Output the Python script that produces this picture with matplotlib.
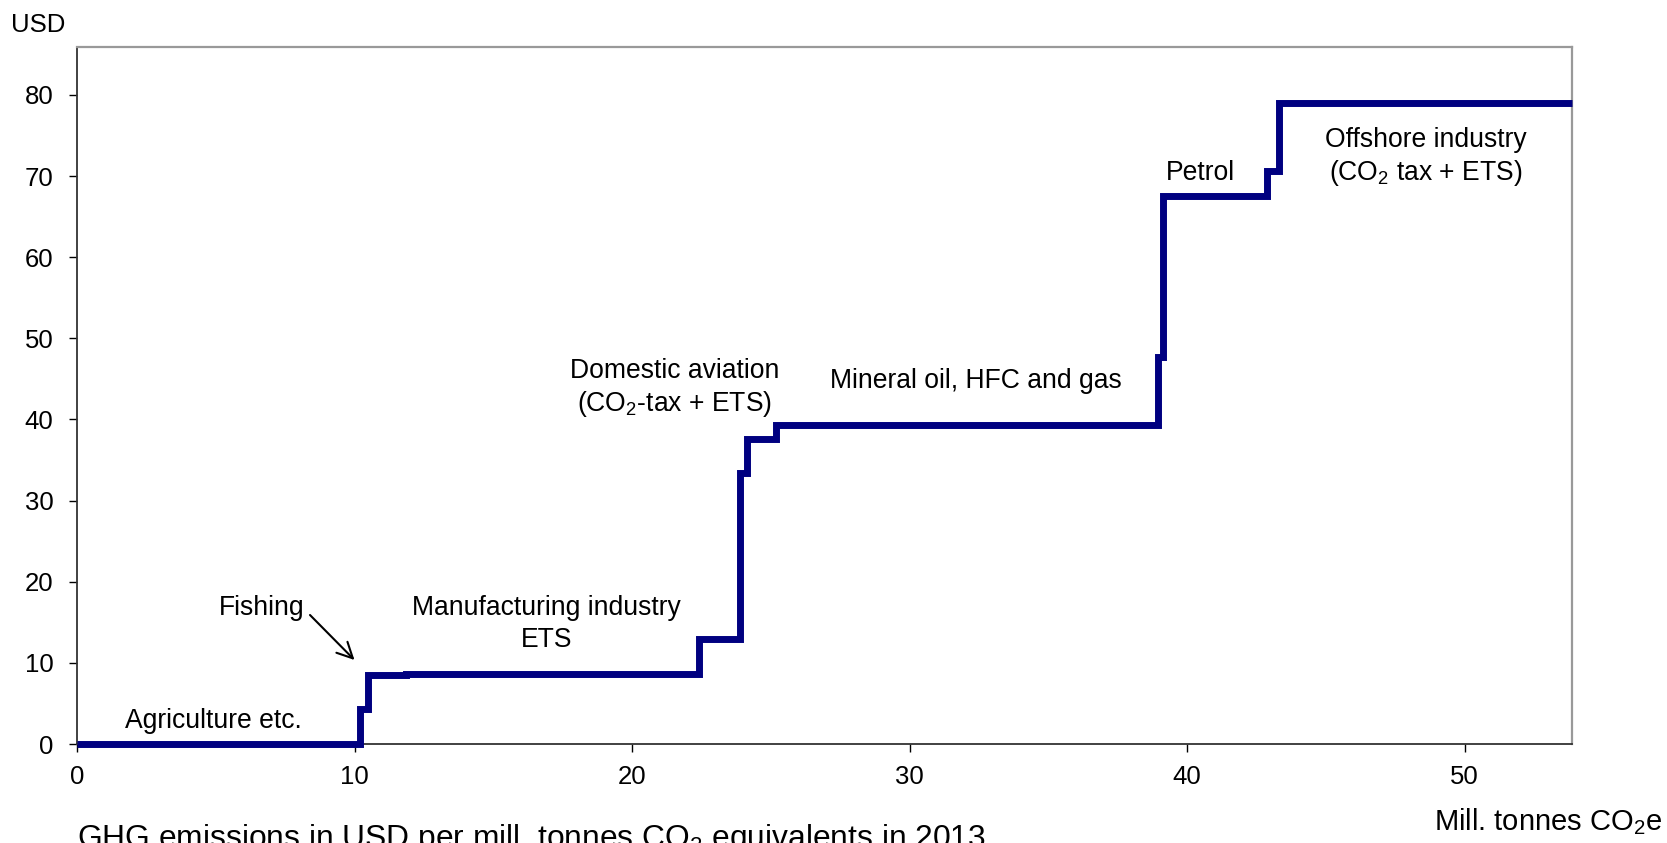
import matplotlib
matplotlib.use("Agg")
import matplotlib.pyplot as plt

plt.rcParams['font.family'] = ['Liberation Sans', 'DejaVu Sans']
plt.rcParams['mathtext.fontset'] = 'custom'
plt.rcParams['mathtext.rm'] = 'Liberation Sans'
plt.rcParams['mathtext.it'] = 'Liberation Sans:italic'

# Step edges (mill. tonnes CO2e, cumulative) and price levels (USD)
edges = [0, 10.19, 10.49, 11.85, 22.41, 23.88, 24.15, 25.19, 38.97, 39.15, 42.88, 43.32, 53.87]
prices = [0, 4.3, 8.5, 8.65, 13.0, 33.4, 37.6, 39.3, 47.7, 67.5, 70.6, 79.0]

x_ticks = [0, 10, 20, 30, 40, 50]
y_ticks = [0, 10, 20, 30, 40, 50, 60, 70, 80]

FS = 18.5
FA = 19.1
W, H = 1667, 843
fig = plt.figure(figsize=(W / 100, H / 100), dpi=100)
ax = fig.add_axes([77 / W, 1 - 744 / H, (1572 - 77) / W, (744 - 47) / H])

ax.stairs(prices, edges, baseline=None, color='#000080', linewidth=5.0,
          clip_on=False, zorder=5)

ax.set_xlim(0, 53.87)
ax.set_ylim(0, 85.9)
ax.set_xticks(x_ticks)
ax.set_yticks(y_ticks)
ax.tick_params(axis='both', direction='out', length=6, width=1, labelsize=FS, colors='black')
ax.tick_params(axis='y', pad=11)
ax.tick_params(axis='x', pad=9)

for s in ['left', 'bottom']:
    ax.spines[s].set_color('#333333')
    ax.spines[s].set_linewidth(1.3)
for s in ['top', 'right']:
    ax.spines[s].set_color('#999999')
    ax.spines[s].set_linewidth(1.6)

def fx(px):
    return px / W

def fy(py):
    return 1 - py / H

fig.text(fx(11), fy(24.5), 'USD', fontsize=FS, ha='left', va='center')

kw = dict(fontsize=FA, ha='center', va='center', transform=fig.transFigure)
fig.text(fx(213.7), fy(721), 'Agriculture etc.', **kw)
fig.text(fx(261.5), fy(608), 'Fishing', **kw)
fig.text(fx(546.5), fy(608), 'Manufacturing industry', **kw)
fig.text(fx(546.5), fy(640), 'ETS', **kw)
fig.text(fx(675), fy(371), 'Domestic aviation', **kw)
fig.text(fx(675), fy(404), r'(CO$_\mathrm{2}$-tax + ETS)', **kw)
fig.text(fx(976), fy(381), 'Mineral oil, HFC and gas', **kw)
fig.text(fx(1200), fy(173), 'Petrol', **kw)
fig.text(fx(1426), fy(140), 'Offshore industry', **kw)
fig.text(fx(1426), fy(173), r'(CO$_\mathrm{2}$ tax + ETS)', **kw)

ax.annotate('', xy=(fx(354.5), fy(660)), xytext=(fx(310), fy(615)),
            xycoords='figure fraction', textcoords='figure fraction',
            arrowprops=dict(arrowstyle='->', color='black', lw=1.5,
                            mutation_scale=28, shrinkA=0, shrinkB=0))

fig.text(fx(1662), fy(830), r'Mill. tonnes CO$_\mathrm{2}$e', fontsize=21,
         ha='right', va='baseline')
fig.text(fx(77), fy(847), r'GHG emissions in USD per mill. tonnes CO$_\mathrm{2}$ equivalents in 2013',
         fontsize=22.9, ha='left', va='baseline')

fig.savefig('out.png', dpi=100)
